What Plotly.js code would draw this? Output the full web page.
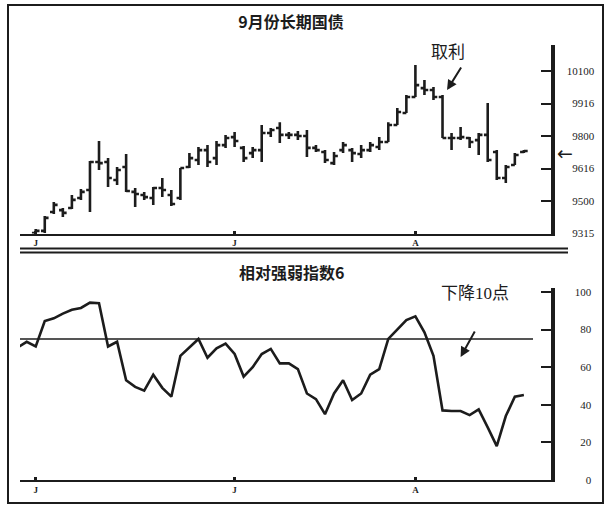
<!DOCTYPE html>
<html>
<head>
<meta charset="utf-8">
<script src="https://cdn.plot.ly/plotly-3.0.1.min.js"></script>
<style>html,body{margin:0;padding:0;background:#fff;}</style>
</head>
<body>
<div id="chart" style="width:609px;height:510px;"></div>
<script>
// ---- Data ----
const days = [0,1,2,3,4,5,6,7,8,9,10,11,12,13,14,15,16,17,18,19,20,21,22,23,24,25,26,27,28,29,30,31,32,33,34,35,36,37,38,39,40,41,42,43,44,45,46,47,48,49,50,51,52,53,54];
const openP  = [93.52,93.62,94.49,94.58,94.68,95.14,95.51,96.80,96.80,95.97,96.57,95.42,95.28,95.14,95.60,95.28,95.14,96.57,96.89,97.35,96.98,97.58,97.95,97.45,97.21,97.35,98.14,98.37,98.05,98.05,98.00,97.45,97.26,96.75,97.35,97.35,97.17,97.35,97.49,97.72,98.51,99.06,99.80,100.21,100.12,99.80,97.91,97.91,97.91,97.81,98.05,97.26,96.06,96.66,97.26];
const highP  = [93.71,94.31,94.95,94.68,95.28,95.55,96.85,97.77,96.98,96.57,97.17,95.60,95.42,95.65,96.06,95.51,96.52,97.21,97.49,97.58,97.77,98.05,98.18,97.54,97.49,98.51,98.37,98.64,98.18,98.23,98.28,97.58,97.35,97.26,97.72,97.45,97.58,97.72,97.95,98.64,99.29,99.89,101.28,100.58,100.26,99.89,98.14,98.41,97.95,98.14,99.52,97.35,96.66,97.21,97.35];
const lowP   = [93.50,93.52,94.40,94.26,94.63,95.05,94.49,96.43,95.65,95.74,95.42,94.72,95.05,94.82,95.18,94.77,95.05,96.52,96.66,96.57,96.66,97.45,97.49,96.80,96.98,96.80,97.95,97.68,97.86,97.81,97.03,97.26,96.75,96.66,97.21,96.80,96.98,97.26,97.35,97.72,98.51,99.06,99.80,99.89,99.66,97.91,97.35,97.81,97.45,97.12,96.80,95.97,95.83,96.66,97.21];
const closeP = [93.62,94.22,94.82,94.45,95.05,95.42,96.80,96.75,96.06,96.43,95.46,95.32,95.18,95.60,95.51,94.86,96.52,96.98,97.35,96.80,97.58,97.91,97.77,96.98,97.35,98.14,98.28,98.05,98.05,98.00,97.45,97.35,96.89,97.08,97.58,97.21,97.35,97.58,97.72,98.51,99.11,99.80,100.35,100.12,99.80,97.91,97.91,97.95,97.72,98.05,96.89,96.06,96.57,97.12,97.31];

const rsiDays = [-2,-1,0,1,2,3,4,5,6,7,8,9,10,11,12,13,14,15,16,17,18,19,20,21,22,23,24,25,26,27,28,29,30,31,32,33,34,35,36,37,38,39,40,41,42,43,44,45,46,47,48,49,50,51,52,53,54];
const rsi6 = [70.5,73.5,71,84.5,86,88.5,90.5,91.5,94.3,94,71,73.5,53,49.5,47.5,56,49,44.3,66,70.5,75,65,70,72.5,67,55,60,67,69.7,62,62,59,46,43,35,46,53,42.5,46,56,59,75,80,85,87,78.5,66,37,36.7,36.7,34.5,37.5,28,18,34,44.3,45.2];
const rsiLevel = 75;

const monthTickDays = [0, 22, 42];
const monthLabels = ['J', 'J', 'A'];
const priceTickVals = [93.5, 95, 96.5, 98, 99.5, 101];
const priceTickText = ['\u20079315', '\u20079500', '\u20079616', '\u20079800', '\u20079916', '10100'];
const rsiTickVals = [0, 20, 40, 60, 80, 100];
const rsiTickText = ['\u2007\u20070', '\u200720', '\u200740', '\u200760', '\u200780', '100'];

const topTitle = '9月份长期国债';
const bottomTitle = '相对强弱指数6';
const noteTop = '取利';
const noteBottom = '下降10点';

// ---- Styling ----
const ink = '#1c1c1c';
const W = 609, H = 510;
const px = v => v / W;
const py = v => (H - v) / H;
const xDom = [px(20), px(551)];
const serif = 'Liberation Serif, DejaVu Serif, serif';
const cjk = 'Noto Sans CJK SC, sans-serif';

const traces = [
  {
    type: 'ohlc', x: days, open: openP, high: highP, low: lowP, close: closeP,
    xaxis: 'x', yaxis: 'y', tickwidth: 0.42,
    increasing: {line: {color: ink, width: 2.6}},
    decreasing: {line: {color: ink, width: 2.6}},
    hoverinfo: 'skip', showlegend: false
  },
  {
    type: 'scatter', mode: 'lines', x: rsiDays, y: rsi6,
    xaxis: 'x2', yaxis: 'y2',
    line: {color: ink, width: 2.6},
    hoverinfo: 'skip', showlegend: false
  }
];

const xCommon = {
  domain: xDom, range: [-1.74, 57.0], showgrid: false, zeroline: false,
  showline: true, linecolor: ink, linewidth: 2,
  ticks: 'inside', ticklen: 3, tickwidth: 3, tickcolor: ink,
  tickvals: monthTickDays, ticktext: monthLabels,
  tickfont: {family: serif, size: 9, color: ink, weight: 'bold'},
  fixedrange: true
};
const yCommon = {
  side: 'right', showgrid: false, zeroline: false,
  showline: true, linecolor: ink, linewidth: 3.5,
  ticks: 'inside', ticklen: 10, tickwidth: 2, tickcolor: ink,
  tickfont: {family: serif, size: 11, color: ink},
  fixedrange: true
};

const layout = {
  width: W, height: H,
  margin: {l: 0, r: 0, t: 0, b: 0},
  paper_bgcolor: '#ffffff', plot_bgcolor: 'rgba(0,0,0,0)',
  showlegend: false,
  title: {text: topTitle, x: px(291), xanchor: 'center', y: py(22), yanchor: 'middle',
          font: {family: cjk, size: 16, color: ink, weight: 'bold'}},
  xaxis: Object.assign({}, xCommon, {anchor: 'y', rangeslider: {visible: false}}),
  yaxis: Object.assign({}, yCommon, {anchor: 'x', domain: [py(233.5), py(45)], range: [93.5, 102.2],
          tickvals: priceTickVals, ticktext: priceTickText, ticklabelstandoff: 10}),
  xaxis2: Object.assign({}, xCommon, {anchor: 'y2'}),
  yaxis2: Object.assign({}, yCommon, {anchor: 'x2', domain: [py(480), py(288)], range: [0, 102.1],
          tickvals: rsiTickVals, ticktext: rsiTickText, ticklabelstandoff: 18}),
  shapes: [
    {type: 'rect', xref: 'paper', yref: 'paper', x0: px(8), x1: px(603), y0: py(503), y1: py(5),
     line: {color: ink, width: 2}},
    {type: 'line', xref: 'paper', yref: 'paper', x0: px(20), x1: px(568), y0: py(248.5), y1: py(248.5),
     line: {color: ink, width: 2}},
    {type: 'line', xref: 'paper', yref: 'paper', x0: px(20), x1: px(568), y0: py(252.5), y1: py(252.5),
     line: {color: ink, width: 2}},
    {type: 'line', xref: 'paper', yref: 'y2', x0: px(20), x1: px(533), y0: rsiLevel, y1: rsiLevel,
     line: {color: ink, width: 1.5}}
  ],
  annotations: [
    {text: bottomTitle, xref: 'paper', yref: 'paper', x: px(291), y: py(272), xanchor: 'center', yanchor: 'middle',
     showarrow: false, font: {family: cjk, size: 16, color: ink, weight: 'bold'}},
    {text: noteTop, xref: 'paper', yref: 'paper', x: px(448), y: py(53), xanchor: 'center', yanchor: 'middle',
     showarrow: false, font: {family: serif + ', ' + cjk, size: 17, color: ink}},
    {text: '', xref: 'x', yref: 'y', x: 45.5, y: 100.12, ax: 15, ay: -24,
     showarrow: true, arrowhead: 2, arrowsize: 1, arrowwidth: 2, arrowcolor: ink},
    {text: noteBottom, xref: 'paper', yref: 'paper', x: px(475), y: py(293), xanchor: 'center', yanchor: 'middle',
     showarrow: false, font: {family: serif + ', ' + cjk, size: 17, color: ink}},
    {text: '', xref: 'x2', yref: 'y2', x: 47.0, y: 65.4, ax: 15, ay: -27,
     showarrow: true, arrowhead: 2, arrowsize: 1, arrowwidth: 2, arrowcolor: ink},
    {text: '←', xref: 'paper', yref: 'paper', x: px(565), y: py(153), xanchor: 'center', yanchor: 'middle',
     showarrow: false, font: {family: 'DejaVu Sans', size: 19, color: ink}}
  ]
};

Plotly.newPlot('chart', traces, layout, {staticPlot: true, displayModeBar: false});
</script>
</body>
</html>
